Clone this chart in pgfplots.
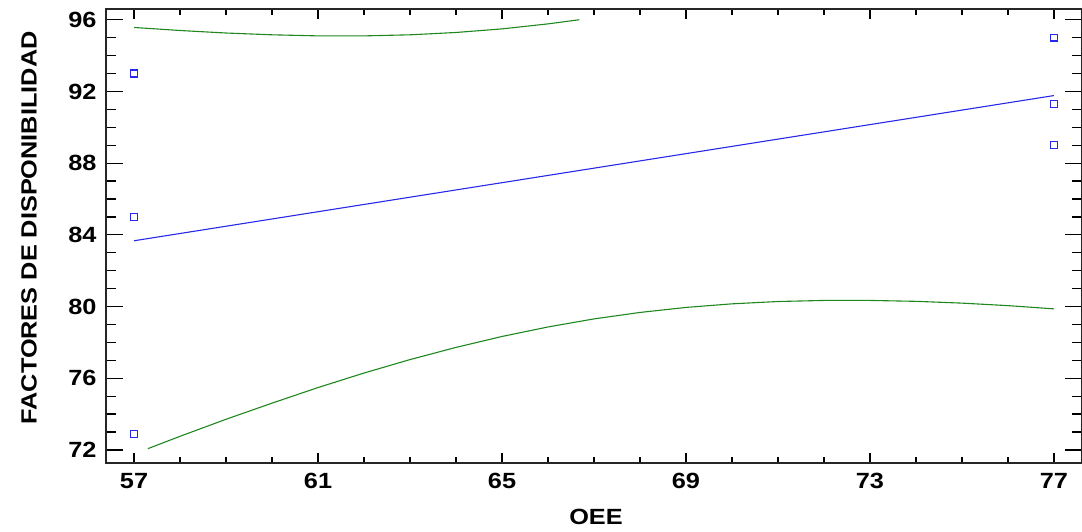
\documentclass[border=0pt]{standalone}
\usepackage{fontspec}
\setmainfont{Liberation Sans}
\newfontfamily\widefont[FakeStretch=1.15]{Liberation Sans}
\usepackage{pgfplots}
\pgfplotsset{compat=1.18}
\definecolor{ptblue}{RGB}{40,40,235}
\definecolor{cigreen}{RGB}{30,135,30}
\begin{document}
\begin{tikzpicture}
\path[use as bounding box] (-106pt,-68pt) rectangle (976pt,463pt);
\begin{axis}[
  scale only axis,
  width=976pt, height=454pt,
  xmin=56.39, xmax=77.61,
  ymin=71.27, ymax=96.6,
  xtick={57,61,65,69,73,77},
  ytick={72,76,80,84,88,92,96},
  minor x tick num=3,
  minor y tick num=3,
  tick align=inside,
  xtick pos=both, ytick pos=both,
  xticklabel pos=lower, yticklabel pos=left,
  major tick length=17pt, minor tick length=10pt,
  xtick style={/pgfplots/major tick length=10pt,/pgfplots/minor tick length=6pt, line width=1.2pt, black},
  ytick style={line width=1.2pt, black},
  axis line style={line width=1.5pt, black!85},
  ticklabel style={font=\widefont\fontsize{22}{26}\selectfont\bfseries},
  /pgf/number format/assume math mode=true,
  xticklabel style={yshift=-7pt},
  yticklabel style={xshift=-6pt},
  xlabel={OEE},
  ylabel={FACTORES DE DISPONIBILIDAD},
  every axis x label/.style={at={(axis description cs:0.5,0)}, xshift=2pt, yshift=-54pt, anchor=center, font=\widefont\fontsize{22}{26}\selectfont\bfseries},
  every axis y label/.style={at={(axis description cs:0,0.5)}, xshift=-77pt, yshift=8pt, rotate=90, anchor=center, font=\widefont\fontsize{22}{26}\selectfont\bfseries},
]
% observations
\addplot[only marks, mark=square, mark size=3.4pt, ptblue, mark options={line width=1.3pt}] coordinates {
 (57,93) (57,85) (57,72.9) (77,95) (77,91.3) (77,89)
};
% fitted line
\addplot[ptblue, line width=1.1pt] coordinates {(57,83.67) (77,91.77)};
% upper limit
\addplot[cigreen, line width=1.1pt] coordinates {
 (57,95.57) (58,95.40) (59,95.26) (60,95.16) (61,95.10) (62,95.10) (63,95.16)
 (64,95.29) (65,95.49) (66,95.77) (66.5,95.94) (66.68,96.0)
};
% lower limit
\addplot[cigreen, line width=1.1pt] coordinates {
 (57.3,72.07) (58,72.76) (59,73.71) (60,74.61) (61,75.48) (62,76.29) (63,77.04)
 (64,77.72) (65,78.33) (66,78.86) (67,79.31) (68,79.67) (69,79.95) (70,80.15)
 (71,80.28) (72,80.34) (73,80.34) (74,80.29) (75,80.19) (76,80.05) (77,79.87)
};
\end{axis}
\end{tikzpicture}
\end{document}
